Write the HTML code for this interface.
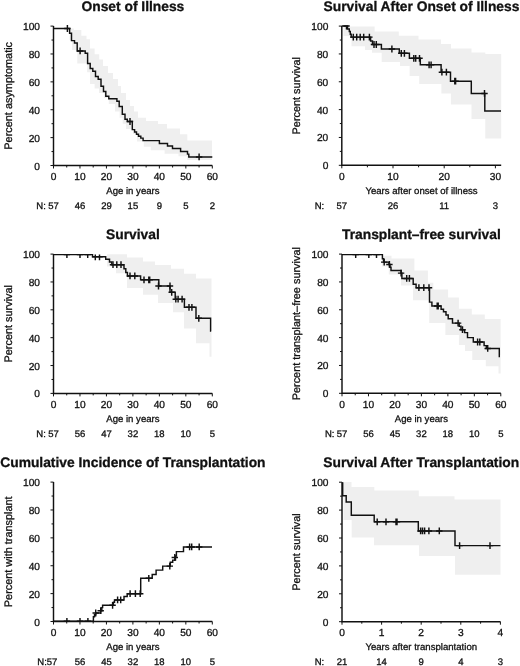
<!DOCTYPE html>
<html><head><meta charset="utf-8"><style>
html,body{margin:0;padding:0;background:#fff;}
svg{display:block;will-change:transform;}
text{text-rendering:geometricPrecision;font-family:"Liberation Sans", sans-serif;fill:#111;stroke:#111;stroke-width:0.3px;}
</style></head><body>
<svg width="520" height="666" viewBox="0 0 520 666">
<path d="M69.6,28.5 L73.8,28.5 L73.8,30 L81.3,30 L81.3,35.8 L86.5,35.8 L86.5,39.3 L90,39.3 L90,48.5 L94.6,48.5 L94.6,54.3 L99.2,54.3 L99.2,59.5 L103,59.5 L103,66 L108,66 L108,73 L113,73 L113,79 L118,79 L118,86 L121,86 L121,93 L126,93 L126,100 L130,100 L130,106 L134,106 L134,111.5 L138,111.5 L138,117.7 L146,117.7 L146,121 L158,121 L158,124 L167,124 L167,128.5 L180,128.5 L180,134.2 L187.3,134.2 L187.3,140.5 L212,140.5 L212,160 L187.3,160 L187.3,156.2 L178.5,156.2 L178.5,153.7 L164.6,153.7 L164.6,150.2 L150.8,150.2 L150.8,146.7 L143.8,146.7 L143.8,141.5 L137,141.5 L137,134 L133,134 L133,129 L126,129 L126,123.8 L122.7,123.8 L122.7,117.7 L119.6,117.7 L119.6,111.5 L115,111.5 L115,104 L108.8,104 L108.8,98 L104,98 L104,93 L99,93 L99,88.5 L94.6,88.5 L94.6,84 L90,84 L90,72.3 L87.1,72.3 L87.1,63.5 L77.3,63.5 L77.3,50 L72,50 L72,40 L69.6,40 Z" fill="#efefef" stroke="none"/>
<path d="M53.5,28.5 L69.6,28.5 L69.6,33.2 L71.5,33.2 L71.5,40.6 L74.5,40.6 L74.5,43 L77.2,43 L77.2,50.9 L85.2,50.9 L85.2,53.2 L87.6,53.2 L87.6,63.5 L90.2,63.5 L90.2,68.5 L92.8,68.5 L92.8,71.2 L95.5,71.2 L95.5,76.5 L98.2,76.5 L98.2,79.2 L101,79.2 L101,86.2 L103.5,86.2 L103.5,91.5 L105.8,91.5 L105.8,96.2 L108.8,96.2 L108.8,98.8 L116.9,98.8 L116.9,101.2 L119.2,101.2 L119.2,106.5 L122.3,106.5 L122.3,114.2 L125,114.2 L125,119.2 L127.3,119.2 L127.3,121.5 L132.3,121.5 L132.3,129.6 L134.6,129.6 L134.6,131.9 L136.5,131.9 L136.5,134.2 L138.5,134.2 L138.5,136.2 L140.8,136.2 L140.8,138.1 L143.1,138.1 L143.1,140.6 L159.4,140.6 L159.4,143.5 L167.5,143.5 L167.5,146 L172.5,146 L172.5,148.5 L180.6,148.5 L180.6,151.5 L187.5,151.5 L187.5,154.1 L188.8,154.1 L188.8,156.9 L212.3,156.9" stroke="#111" stroke-width="1.45" fill="none" stroke-linejoin="miter"/>
<path d="M67.4,25.1 L67.4,31.9 M64.2,28.5 L70.6,28.5 M80.1,47.5 L80.1,54.3 M76.9,50.9 L83.3,50.9 M130,118.1 L130,124.9 M126.8,121.5 L133.2,121.5 M199.1,153.5 L199.1,160.3 M195.9,156.9 L202.3,156.9" stroke="#111" stroke-width="1.45" fill="none"/>
<path d="M53.5,26.1 L53.5,165.5 L212.3,165.5" stroke="#111" stroke-width="1.45" fill="none"/>
<path d="M50.5,165.5 L53.5,165.5 M51.5,151.56 L53.5,151.56 M50.5,137.62 L53.5,137.62 M51.5,123.68 L53.5,123.68 M50.5,109.74 L53.5,109.74 M51.5,95.8 L53.5,95.8 M50.5,81.86 L53.5,81.86 M51.5,67.92 L53.5,67.92 M50.5,53.98 L53.5,53.98 M51.5,40.04 L53.5,40.04 M50.5,26.1 L53.5,26.1 M53.5,165.5 L53.5,168.5 M79.97,165.5 L79.97,168.5 M106.43,165.5 L106.43,168.5 M132.9,165.5 L132.9,168.5 M159.37,165.5 L159.37,168.5 M185.83,165.5 L185.83,168.5 M212.3,165.5 L212.3,168.5 M66.73,165.5 L66.73,167.5 M93.2,165.5 L93.2,167.5 M119.67,165.5 L119.67,167.5 M146.13,165.5 L146.13,167.5 M172.6,165.5 L172.6,167.5 M199.07,165.5 L199.07,167.5" stroke="#111" stroke-width="1" fill="none"/>
<text x="40" y="169.5" text-anchor="end" font-size="10.2">0</text>
<text x="40" y="141.62" text-anchor="end" font-size="10.2">20</text>
<text x="40" y="113.74" text-anchor="end" font-size="10.2">40</text>
<text x="40" y="85.86" text-anchor="end" font-size="10.2">60</text>
<text x="40" y="57.98" text-anchor="end" font-size="10.2">80</text>
<text x="40" y="30.1" text-anchor="end" font-size="10.2">100</text>
<text x="53.5" y="180.1" text-anchor="middle" font-size="10.2">0</text>
<text x="79.97" y="180.1" text-anchor="middle" font-size="10.2">10</text>
<text x="106.43" y="180.1" text-anchor="middle" font-size="10.2">20</text>
<text x="132.9" y="180.1" text-anchor="middle" font-size="10.2">30</text>
<text x="159.37" y="180.1" text-anchor="middle" font-size="10.2">40</text>
<text x="185.83" y="180.1" text-anchor="middle" font-size="10.2">50</text>
<text x="212.3" y="180.1" text-anchor="middle" font-size="10.2">60</text>
<text x="132.9" y="193.7" text-anchor="middle" font-size="9.6">Age in years</text>
<text x="132.9" y="10.9" text-anchor="middle" font-size="13.8" font-weight="bold">Onset of Illness</text>
<text transform="translate(11.8,95.8) rotate(-90)" text-anchor="middle" font-size="10.9">Percent asymptomatic</text>
<text x="36.3" y="208.8" text-anchor="start" font-size="9.5">N:</text>
<text x="53.5" y="208.8" text-anchor="middle" font-size="9.5">57</text>
<text x="79.97" y="208.8" text-anchor="middle" font-size="9.5">46</text>
<text x="106.43" y="208.8" text-anchor="middle" font-size="9.5">29</text>
<text x="132.9" y="208.8" text-anchor="middle" font-size="9.5">15</text>
<text x="159.37" y="208.8" text-anchor="middle" font-size="9.5">9</text>
<text x="185.83" y="208.8" text-anchor="middle" font-size="9.5">5</text>
<text x="212.3" y="208.8" text-anchor="middle" font-size="9.5">2</text>
<path d="M343.5,26.6 L374.6,26.6 L374.6,31.6 L398.8,31.6 L398.8,35.7 L418.5,35.7 L418.5,39.6 L441,39.6 L441,44 L451,44 L451,48.5 L471.5,48.5 L471.5,52.5 L485.3,52.5 L485.3,54 L501.2,54 L501.2,138.5 L485.3,138.5 L485.3,119 L471.5,119 L471.5,104.5 L450.9,104.5 L450.9,93.5 L441.4,93.5 L441.4,84 L419.2,84 L419.2,76 L409.6,76 L409.6,66 L400,66 L400,62 L381.7,62 L381.7,52.7 L372,52.7 L372,50 L365,50 L365,46.2 L351.5,46.2 L351.5,36 L343.5,36 Z" fill="#efefef" stroke="none"/>
<path d="M341.8,26 L347.5,26 L347.5,29 L349.3,29 L349.3,31.5 L350.3,31.5 L350.3,34.3 L351.2,34.3 L351.2,37.1 L370.6,37.1 L370.6,41 L372.5,41 L372.5,44.5 L381.4,44.5 L381.4,49 L399.3,49 L399.3,53.3 L409.4,53.3 L409.4,58.3 L420.3,58.3 L420.3,64.8 L441.1,64.8 L441.1,72.2 L450.5,72.2 L450.5,81.2 L471.3,81.2 L471.3,93.4 L484.8,93.4 L484.8,110.9 L501,110.9" stroke="#111" stroke-width="1.45" fill="none" stroke-linejoin="miter"/>
<path d="M346.5,26.1 L346.5,29.4 M343.3,26 L349.7,26 M353.3,33.7 L353.3,40.5 M350.1,37.1 L356.5,37.1 M356.7,33.7 L356.7,40.5 M353.5,37.1 L359.9,37.1 M360.2,33.7 L360.2,40.5 M357,37.1 L363.4,37.1 M363.7,33.7 L363.7,40.5 M360.5,37.1 L366.9,37.1 M369.4,33.7 L369.4,40.5 M366.2,37.1 L372.6,37.1 M374,41.1 L374,47.9 M370.8,44.5 L377.2,44.5 M376.3,41.1 L376.3,47.9 M373.1,44.5 L379.5,44.5 M391.9,45.6 L391.9,52.4 M388.7,49 L395.1,49 M401.3,49.9 L401.3,56.7 M398.1,53.3 L404.5,53.3 M404.4,49.9 L404.4,56.7 M401.2,53.3 L407.6,53.3 M413.8,54.9 L413.8,61.7 M410.6,58.3 L417,58.3 M415.7,54.9 L415.7,61.7 M412.5,58.3 L418.9,58.3 M419.5,54.9 L419.5,61.7 M416.3,58.3 L422.7,58.3 M429.1,61.4 L429.1,68.2 M425.9,64.8 L432.3,64.8 M431.1,61.4 L431.1,68.2 M427.9,64.8 L434.3,64.8 M441.9,68.8 L441.9,75.6 M438.7,72.2 L445.1,72.2 M446.4,68.8 L446.4,75.6 M443.2,72.2 L449.6,72.2 M454.8,77.8 L454.8,84.6 M451.6,81.2 L458,81.2 M455.6,77.8 L455.6,84.6 M452.4,81.2 L458.8,81.2 M484.5,90 L484.5,96.8 M481.3,93.4 L487.7,93.4" stroke="#111" stroke-width="1.45" fill="none"/>
<path d="M341.8,26.1 L341.8,165.3 L501.2,165.3" stroke="#111" stroke-width="1.45" fill="none"/>
<path d="M338.8,165.3 L341.8,165.3 M339.8,151.38 L341.8,151.38 M338.8,137.46 L341.8,137.46 M339.8,123.54 L341.8,123.54 M338.8,109.62 L341.8,109.62 M339.8,95.7 L341.8,95.7 M338.8,81.78 L341.8,81.78 M339.8,67.86 L341.8,67.86 M338.8,53.94 L341.8,53.94 M339.8,40.02 L341.8,40.02 M338.8,26.1 L341.8,26.1 M341.8,165.3 L341.8,168.3 M393,165.3 L393,168.3 M444.2,165.3 L444.2,168.3 M495.4,165.3 L495.4,168.3 M367.4,165.3 L367.4,167.3 M418.6,165.3 L418.6,167.3 M469.8,165.3 L469.8,167.3" stroke="#111" stroke-width="1" fill="none"/>
<text x="328.3" y="169.3" text-anchor="end" font-size="10.2">0</text>
<text x="328.3" y="141.46" text-anchor="end" font-size="10.2">20</text>
<text x="328.3" y="113.62" text-anchor="end" font-size="10.2">40</text>
<text x="328.3" y="85.78" text-anchor="end" font-size="10.2">60</text>
<text x="328.3" y="57.94" text-anchor="end" font-size="10.2">80</text>
<text x="328.3" y="30.1" text-anchor="end" font-size="10.2">100</text>
<text x="341.8" y="179.9" text-anchor="middle" font-size="10.2">0</text>
<text x="393" y="179.9" text-anchor="middle" font-size="10.2">10</text>
<text x="444.2" y="179.9" text-anchor="middle" font-size="10.2">20</text>
<text x="495.4" y="179.9" text-anchor="middle" font-size="10.2">30</text>
<text x="421.5" y="193.5" text-anchor="middle" font-size="9.6">Years after onset of illness</text>
<text x="421.5" y="10.9" text-anchor="middle" font-size="13.8" font-weight="bold">Survival After Onset of Illness</text>
<text transform="translate(300.3,95.7) rotate(-90)" text-anchor="middle" font-size="10.9">Percent survival</text>
<text x="314.7" y="208.6" text-anchor="start" font-size="9.5">N:</text>
<text x="341.8" y="208.6" text-anchor="middle" font-size="9.5">57</text>
<text x="393" y="208.6" text-anchor="middle" font-size="9.5">26</text>
<text x="444.2" y="208.6" text-anchor="middle" font-size="9.5">11</text>
<text x="495.4" y="208.6" text-anchor="middle" font-size="9.5">3</text>
<path d="M107,254.2 L127,254.2 L127,257.6 L143,257.6 L143,261.5 L155,261.5 L155,265 L171,265 L171,268.8 L184,268.8 L184,273.8 L196,273.8 L196,278.5 L211.5,278.5 L211.5,356.7 L209.5,356.7 L209.5,343.3 L196,343.3 L196,328.5 L184,328.5 L184,312.3 L173,312.3 L173,302.9 L158,302.9 L158,294.8 L143,294.8 L143,288 L127,288 L127,273.3 L116,273.3 L116,266.5 L107,266.5 Z" fill="#efefef" stroke="none"/>
<path d="M53.5,254.6 L92.5,254.6 L92.5,256.8 L105.7,256.8 L105.7,259.2 L109.5,259.2 L109.5,262 L111.8,262 L111.8,264.7 L124,264.7 L124,268.7 L125.8,268.7 L125.8,272.5 L127.4,272.5 L127.4,275.9 L140.6,275.9 L140.6,279.8 L158.8,279.8 L158.8,286 L170,286 L170,292.3 L175.2,292.3 L175.2,299.2 L184.4,299.2 L184.4,307.3 L196,307.3 L196,318.3 L210.6,318.3 L210.6,331 L211.2,331" stroke="#111" stroke-width="1.45" fill="none" stroke-linejoin="miter"/>
<path d="M66.9,254.6 L66.9,258 M63.7,254.6 L70.1,254.6 M80,254.6 L80,258 M76.8,254.6 L83.2,254.6 M87.7,254.6 L87.7,258 M84.5,254.6 L90.9,254.6 M95.3,254.6 L95.3,260.2 M92.1,256.8 L98.5,256.8 M99.5,254.6 L99.5,260.2 M96.3,256.8 L102.7,256.8 M113,261.3 L113,268.1 M109.8,264.7 L116.2,264.7 M116.8,261.3 L116.8,268.1 M113.6,264.7 L120,264.7 M121,261.3 L121,268.1 M117.8,264.7 L124.2,264.7 M130,272.5 L130,279.3 M126.8,275.9 L133.2,275.9 M134.8,272.5 L134.8,279.3 M131.6,275.9 L138,275.9 M144,276.4 L144,283.2 M140.8,279.8 L147.2,279.8 M148.8,276.4 L148.8,283.2 M145.6,279.8 L152,279.8 M149.7,276.4 L149.7,283.2 M146.5,279.8 L152.9,279.8 M158.5,282.6 L158.5,289.4 M155.3,286 L161.7,286 M170,282.6 L170,289.4 M166.8,286 L173.2,286 M171.7,288.9 L171.7,295.7 M168.5,292.3 L174.9,292.3 M175.8,295.8 L175.8,302.6 M172.6,299.2 L179,299.2 M178.1,295.8 L178.1,302.6 M174.9,299.2 L181.3,299.2 M182.1,295.8 L182.1,302.6 M178.9,299.2 L185.3,299.2 M189,303.9 L189,310.7 M185.8,307.3 L192.2,307.3 M191.9,303.9 L191.9,310.7 M188.7,307.3 L195.1,307.3 M198.8,314.9 L198.8,321.7 M195.6,318.3 L202,318.3" stroke="#111" stroke-width="1.45" fill="none"/>
<path d="M53.5,254.1 L53.5,393.4 L212.3,393.4" stroke="#111" stroke-width="1.45" fill="none"/>
<path d="M50.5,393.4 L53.5,393.4 M51.5,379.47 L53.5,379.47 M50.5,365.54 L53.5,365.54 M51.5,351.61 L53.5,351.61 M50.5,337.68 L53.5,337.68 M51.5,323.75 L53.5,323.75 M50.5,309.82 L53.5,309.82 M51.5,295.89 L53.5,295.89 M50.5,281.96 L53.5,281.96 M51.5,268.03 L53.5,268.03 M50.5,254.1 L53.5,254.1 M53.5,393.4 L53.5,396.4 M79.97,393.4 L79.97,396.4 M106.43,393.4 L106.43,396.4 M132.9,393.4 L132.9,396.4 M159.37,393.4 L159.37,396.4 M185.83,393.4 L185.83,396.4 M212.3,393.4 L212.3,396.4 M66.73,393.4 L66.73,395.4 M93.2,393.4 L93.2,395.4 M119.67,393.4 L119.67,395.4 M146.13,393.4 L146.13,395.4 M172.6,393.4 L172.6,395.4 M199.07,393.4 L199.07,395.4" stroke="#111" stroke-width="1" fill="none"/>
<text x="40" y="397.4" text-anchor="end" font-size="10.2">0</text>
<text x="40" y="369.54" text-anchor="end" font-size="10.2">20</text>
<text x="40" y="341.68" text-anchor="end" font-size="10.2">40</text>
<text x="40" y="313.82" text-anchor="end" font-size="10.2">60</text>
<text x="40" y="285.96" text-anchor="end" font-size="10.2">80</text>
<text x="40" y="258.1" text-anchor="end" font-size="10.2">100</text>
<text x="53.5" y="408" text-anchor="middle" font-size="10.2">0</text>
<text x="79.97" y="408" text-anchor="middle" font-size="10.2">10</text>
<text x="106.43" y="408" text-anchor="middle" font-size="10.2">20</text>
<text x="132.9" y="408" text-anchor="middle" font-size="10.2">30</text>
<text x="159.37" y="408" text-anchor="middle" font-size="10.2">40</text>
<text x="185.83" y="408" text-anchor="middle" font-size="10.2">50</text>
<text x="212.3" y="408" text-anchor="middle" font-size="10.2">60</text>
<text x="132.9" y="421.6" text-anchor="middle" font-size="9.6">Age in years</text>
<text x="132.9" y="238.9" text-anchor="middle" font-size="13.8" font-weight="bold">Survival</text>
<text transform="translate(11.8,323.75) rotate(-90)" text-anchor="middle" font-size="10.9">Percent survival</text>
<text x="36.3" y="436.7" text-anchor="start" font-size="9.5">N:</text>
<text x="53.5" y="436.7" text-anchor="middle" font-size="9.5">57</text>
<text x="79.97" y="436.7" text-anchor="middle" font-size="9.5">56</text>
<text x="106.43" y="436.7" text-anchor="middle" font-size="9.5">47</text>
<text x="132.9" y="436.7" text-anchor="middle" font-size="9.5">32</text>
<text x="159.37" y="436.7" text-anchor="middle" font-size="9.5">18</text>
<text x="185.83" y="436.7" text-anchor="middle" font-size="9.5">10</text>
<text x="212.3" y="436.7" text-anchor="middle" font-size="9.5">5</text>
<path d="M382,255.8 L391.5,255.8 L391.5,258.5 L414.4,258.5 L414.4,270.6 L427.9,270.6 L427.9,282.7 L433.3,282.7 L433.3,289.4 L448.1,289.4 L448.1,297.5 L458.9,297.5 L458.9,308.8 L471.8,308.8 L471.8,314.5 L484.8,314.5 L484.8,318.9 L500.6,318.9 L500.6,373.5 L498.5,373.5 L498.5,366.2 L485.8,366.2 L485.8,360 L472.3,360 L472.3,351 L465,351 L465,345 L458.9,345 L458.9,335 L445.4,335 L445.4,323 L429.2,323 L429.2,300.2 L413,300.2 L413,285.4 L401,285.4 L401,274.6 L388.8,274.6 L388.8,266.5 L382,266.5 Z" fill="#efefef" stroke="none"/>
<path d="M342,254.6 L382.4,254.6 L382.4,258.8 L383.6,258.8 L383.6,262.1 L389,262.1 L389,264.4 L390,264.4 L390,267.3 L391,267.3 L391,270.4 L401.1,270.4 L401.1,273.1 L401.9,273.1 L401.9,278.4 L413.2,278.4 L413.2,284.3 L416.1,284.3 L416.1,287.7 L429.5,287.7 L429.5,302.1 L431.9,302.1 L431.9,306 L441.1,306 L441.1,309.3 L443.5,309.3 L443.5,311.8 L446,311.8 L446,315 L448.2,315 L448.2,318.8 L452.5,318.8 L452.5,323.1 L459.2,323.1 L459.2,326.3 L461,326.3 L461,329.7 L464.6,329.7 L464.6,332.6 L467.5,332.6 L467.5,337.6 L473.3,337.6 L473.3,342 L484.1,342 L484.1,345.6 L486.3,345.6 L486.3,348.4 L499.3,348.4 L499.3,356.4 L500,356.4" stroke="#111" stroke-width="1.45" fill="none" stroke-linejoin="miter"/>
<path d="M355.7,254.6 L355.7,258 M352.5,254.6 L358.9,254.6 M368.8,254.6 L368.8,258 M365.6,254.6 L372,254.6 M376.5,254.6 L376.5,258 M373.3,254.6 L379.7,254.6 M384.2,258.7 L384.2,265.5 M381,262.1 L387.4,262.1 M389.4,261 L389.4,267.8 M386.2,264.4 L392.6,264.4 M401.1,269.7 L401.1,276.5 M397.9,273.1 L404.3,273.1 M406.7,275 L406.7,281.8 M403.5,278.4 L409.9,278.4 M409.4,275 L409.4,281.8 M406.2,278.4 L412.6,278.4 M418.9,284.3 L418.9,291.1 M415.7,287.7 L422.1,287.7 M423.8,284.3 L423.8,291.1 M420.6,287.7 L427,287.7 M429,284.3 L429,291.1 M425.8,287.7 L432.2,287.7 M437.2,302.6 L437.2,309.4 M434,306 L440.4,306 M438.2,302.6 L438.2,309.4 M435,306 L441.4,306 M458.1,319.7 L458.1,326.5 M454.9,323.1 L461.3,323.1 M462.5,326.3 L462.5,333.1 M459.3,329.7 L465.7,329.7 M477.6,338.6 L477.6,345.4 M474.4,342 L480.8,342 M479.8,338.6 L479.8,345.4 M476.6,342 L483,342 M487.7,345 L487.7,351.8 M484.5,348.4 L490.9,348.4" stroke="#111" stroke-width="1.45" fill="none"/>
<path d="M342,254.1 L342,393.3 L500.8,393.3" stroke="#111" stroke-width="1.45" fill="none"/>
<path d="M339,393.3 L342,393.3 M340,379.38 L342,379.38 M339,365.46 L342,365.46 M340,351.54 L342,351.54 M339,337.62 L342,337.62 M340,323.7 L342,323.7 M339,309.78 L342,309.78 M340,295.86 L342,295.86 M339,281.94 L342,281.94 M340,268.02 L342,268.02 M339,254.1 L342,254.1 M342,393.3 L342,396.3 M368.47,393.3 L368.47,396.3 M394.93,393.3 L394.93,396.3 M421.4,393.3 L421.4,396.3 M447.87,393.3 L447.87,396.3 M474.33,393.3 L474.33,396.3 M500.8,393.3 L500.8,396.3 M355.23,393.3 L355.23,395.3 M381.7,393.3 L381.7,395.3 M408.17,393.3 L408.17,395.3 M434.63,393.3 L434.63,395.3 M461.1,393.3 L461.1,395.3 M487.57,393.3 L487.57,395.3" stroke="#111" stroke-width="1" fill="none"/>
<text x="328.5" y="397.3" text-anchor="end" font-size="10.2">0</text>
<text x="328.5" y="369.46" text-anchor="end" font-size="10.2">20</text>
<text x="328.5" y="341.62" text-anchor="end" font-size="10.2">40</text>
<text x="328.5" y="313.78" text-anchor="end" font-size="10.2">60</text>
<text x="328.5" y="285.94" text-anchor="end" font-size="10.2">80</text>
<text x="328.5" y="258.1" text-anchor="end" font-size="10.2">100</text>
<text x="342" y="407.9" text-anchor="middle" font-size="10.2">0</text>
<text x="368.47" y="407.9" text-anchor="middle" font-size="10.2">10</text>
<text x="394.93" y="407.9" text-anchor="middle" font-size="10.2">20</text>
<text x="421.4" y="407.9" text-anchor="middle" font-size="10.2">30</text>
<text x="447.87" y="407.9" text-anchor="middle" font-size="10.2">40</text>
<text x="474.33" y="407.9" text-anchor="middle" font-size="10.2">50</text>
<text x="500.8" y="407.9" text-anchor="middle" font-size="10.2">60</text>
<text x="421.4" y="421.5" text-anchor="middle" font-size="9.6">Age in years</text>
<text x="421.4" y="238.9" text-anchor="middle" font-size="13.8" font-weight="bold">Transplant–free survival</text>
<text transform="translate(300.3,323.7) rotate(-90)" text-anchor="middle" font-size="10.9">Percent transplant–free survival</text>
<text x="325" y="436.6" text-anchor="start" font-size="9.5">N:</text>
<text x="342" y="436.6" text-anchor="middle" font-size="9.5">57</text>
<text x="368.47" y="436.6" text-anchor="middle" font-size="9.5">56</text>
<text x="394.93" y="436.6" text-anchor="middle" font-size="9.5">45</text>
<text x="421.4" y="436.6" text-anchor="middle" font-size="9.5">32</text>
<text x="447.87" y="436.6" text-anchor="middle" font-size="9.5">18</text>
<text x="474.33" y="436.6" text-anchor="middle" font-size="9.5">10</text>
<text x="500.8" y="436.6" text-anchor="middle" font-size="9.5">5</text>
<path d="M53.5,621.3 L93.4,621.3 L93.4,616.8 L94.5,616.8 L94.5,614.5 L95.7,614.5 L95.7,613 L100.6,613 L100.6,610.7 L101.8,610.7 L101.8,607.6 L102.6,607.6 L102.6,605.3 L113.4,605.3 L113.4,602.2 L114.5,602.2 L114.5,599.9 L124,599.9 L124,596.5 L127.2,596.5 L127.2,593.7 L140.7,593.7 L140.7,578.3 L152.2,578.3 L152.2,574.4 L156.1,574.4 L156.1,570.1 L162.7,570.1 L162.7,566.1 L170.3,566.1 L170.3,562.2 L172.7,562.2 L172.7,560.1 L175.5,560.1 L175.5,556 L176.4,556 L176.4,551.6 L183.5,551.6 L183.5,546.9 L212,546.9" stroke="#111" stroke-width="1.45" fill="none" stroke-linejoin="miter"/>
<path d="M66.9,617.9 L66.9,621.3 M63.7,621.3 L70.1,621.3 M80,617.9 L80,621.3 M76.8,621.3 L83.2,621.3 M87.9,617.9 L87.9,621.3 M84.7,621.3 L91.1,621.3 M95.7,609.6 L95.7,616.4 M92.5,613 L98.9,613 M100.7,607.3 L100.7,614.1 M97.5,610.7 L103.9,610.7 M112.6,601.9 L112.6,608.7 M109.4,605.3 L115.8,605.3 M117.6,596.5 L117.6,603.3 M114.4,599.9 L120.8,599.9 M120.7,596.5 L120.7,603.3 M117.5,599.9 L123.9,599.9 M130.1,590.3 L130.1,597.1 M126.9,593.7 L133.3,593.7 M135.4,590.3 L135.4,597.1 M132.2,593.7 L138.6,593.7 M140.2,590.3 L140.2,597.1 M137,593.7 L143.4,593.7 M148.8,574.9 L148.8,581.7 M145.6,578.3 L152,578.3 M169.8,562.7 L169.8,569.5 M166.6,566.1 L173,566.1 M174.8,554.1 L174.8,560.9 M171.6,557.5 L178,557.5 M189.6,543.5 L189.6,550.3 M186.4,546.9 L192.8,546.9 M191.7,543.5 L191.7,550.3 M188.5,546.9 L194.9,546.9 M199.2,543.5 L199.2,550.3 M196,546.9 L202.4,546.9" stroke="#111" stroke-width="1.45" fill="none"/>
<path d="M53.5,482.1 L53.5,621.5 L212.3,621.5" stroke="#111" stroke-width="1.45" fill="none"/>
<path d="M50.5,621.5 L53.5,621.5 M51.5,607.56 L53.5,607.56 M50.5,593.62 L53.5,593.62 M51.5,579.68 L53.5,579.68 M50.5,565.74 L53.5,565.74 M51.5,551.8 L53.5,551.8 M50.5,537.86 L53.5,537.86 M51.5,523.92 L53.5,523.92 M50.5,509.98 L53.5,509.98 M51.5,496.04 L53.5,496.04 M50.5,482.1 L53.5,482.1 M53.5,621.5 L53.5,624.5 M79.97,621.5 L79.97,624.5 M106.43,621.5 L106.43,624.5 M132.9,621.5 L132.9,624.5 M159.37,621.5 L159.37,624.5 M185.83,621.5 L185.83,624.5 M212.3,621.5 L212.3,624.5 M66.73,621.5 L66.73,623.5 M93.2,621.5 L93.2,623.5 M119.67,621.5 L119.67,623.5 M146.13,621.5 L146.13,623.5 M172.6,621.5 L172.6,623.5 M199.07,621.5 L199.07,623.5" stroke="#111" stroke-width="1" fill="none"/>
<text x="40" y="625.5" text-anchor="end" font-size="10.2">0</text>
<text x="40" y="597.62" text-anchor="end" font-size="10.2">20</text>
<text x="40" y="569.74" text-anchor="end" font-size="10.2">40</text>
<text x="40" y="541.86" text-anchor="end" font-size="10.2">60</text>
<text x="40" y="513.98" text-anchor="end" font-size="10.2">80</text>
<text x="40" y="486.1" text-anchor="end" font-size="10.2">100</text>
<text x="53.5" y="636.1" text-anchor="middle" font-size="10.2">0</text>
<text x="79.97" y="636.1" text-anchor="middle" font-size="10.2">10</text>
<text x="106.43" y="636.1" text-anchor="middle" font-size="10.2">20</text>
<text x="132.9" y="636.1" text-anchor="middle" font-size="10.2">30</text>
<text x="159.37" y="636.1" text-anchor="middle" font-size="10.2">40</text>
<text x="185.83" y="636.1" text-anchor="middle" font-size="10.2">50</text>
<text x="212.3" y="636.1" text-anchor="middle" font-size="10.2">60</text>
<text x="132.9" y="649.7" text-anchor="middle" font-size="9.6">Age in years</text>
<text x="132.9" y="466.9" text-anchor="middle" font-size="13.8" font-weight="bold">Cumulative Incidence of Transplantation</text>
<text transform="translate(11.8,551.8) rotate(-90)" text-anchor="middle" font-size="10.9">Percent with transplant</text>
<text x="37.3" y="664.8" text-anchor="start" font-size="9.5">N:57</text>
<text x="79.97" y="664.8" text-anchor="middle" font-size="9.5">56</text>
<text x="106.43" y="664.8" text-anchor="middle" font-size="9.5">45</text>
<text x="132.9" y="664.8" text-anchor="middle" font-size="9.5">32</text>
<text x="159.37" y="664.8" text-anchor="middle" font-size="9.5">18</text>
<text x="185.83" y="664.8" text-anchor="middle" font-size="9.5">10</text>
<text x="212.3" y="664.8" text-anchor="middle" font-size="9.5">5</text>
<path d="M343.5,482 L351.5,482 L351.5,487 L374.3,487 L374.3,490.5 L418.8,490.5 L418.8,496.3 L454.5,496.3 L454.5,499.5 L500.5,499.5 L500.5,574.7 L455,574.7 L455,556.1 L419,556.1 L419,545.3 L374,545.3 L374,537.5 L351.7,537.5 L351.7,520.1 L343.5,520.1 Z" fill="#efefef" stroke="none"/>
<path d="M342.7,482.3 L342.7,482.3 L342.7,495.7 L346.2,495.7 L346.2,502 L351.3,502 L351.3,515.3 L374.2,515.3 L374.2,521.8 L418.3,521.8 L418.3,530.9 L455,530.9 L455,545.6 L500.5,545.6" stroke="#111" stroke-width="1.45" fill="none" stroke-linejoin="miter"/>
<path d="M377.2,518.4 L377.2,525.2 M374,521.8 L380.4,521.8 M386,518.4 L386,525.2 M382.8,521.8 L389.2,521.8 M396,518.4 L396,525.2 M392.8,521.8 L399.2,521.8 M397,518.4 L397,525.2 M393.8,521.8 L400.2,521.8 M420.6,527.5 L420.6,534.3 M417.4,530.9 L423.8,530.9 M422.5,527.5 L422.5,534.3 M419.3,530.9 L425.7,530.9 M424.6,527.5 L424.6,534.3 M421.4,530.9 L427.8,530.9 M428.9,527.5 L428.9,534.3 M425.7,530.9 L432.1,530.9 M439.3,527.5 L439.3,534.3 M436.1,530.9 L442.5,530.9 M459.6,542.2 L459.6,549 M456.4,545.6 L462.8,545.6 M490,542.2 L490,549 M486.8,545.6 L493.2,545.6" stroke="#111" stroke-width="1.45" fill="none"/>
<path d="M342,482.2 L342,621.7 L500.5,621.7" stroke="#111" stroke-width="1.45" fill="none"/>
<path d="M339,621.7 L342,621.7 M340,607.75 L342,607.75 M339,593.8 L342,593.8 M340,579.85 L342,579.85 M339,565.9 L342,565.9 M340,551.95 L342,551.95 M339,538 L342,538 M340,524.05 L342,524.05 M339,510.1 L342,510.1 M340,496.15 L342,496.15 M339,482.2 L342,482.2 M342,621.7 L342,624.7 M381.6,621.7 L381.6,624.7 M421.2,621.7 L421.2,624.7 M460.8,621.7 L460.8,624.7 M500.4,621.7 L500.4,624.7 M361.8,621.7 L361.8,623.7 M401.4,621.7 L401.4,623.7 M441,621.7 L441,623.7 M480.6,621.7 L480.6,623.7" stroke="#111" stroke-width="1" fill="none"/>
<text x="328.5" y="625.7" text-anchor="end" font-size="10.2">0</text>
<text x="328.5" y="597.8" text-anchor="end" font-size="10.2">20</text>
<text x="328.5" y="569.9" text-anchor="end" font-size="10.2">40</text>
<text x="328.5" y="542" text-anchor="end" font-size="10.2">60</text>
<text x="328.5" y="514.1" text-anchor="end" font-size="10.2">80</text>
<text x="328.5" y="486.2" text-anchor="end" font-size="10.2">100</text>
<text x="342" y="636.3" text-anchor="middle" font-size="10.2">0</text>
<text x="381.6" y="636.3" text-anchor="middle" font-size="10.2">1</text>
<text x="421.2" y="636.3" text-anchor="middle" font-size="10.2">2</text>
<text x="460.8" y="636.3" text-anchor="middle" font-size="10.2">3</text>
<text x="500.4" y="636.3" text-anchor="middle" font-size="10.2">4</text>
<text x="421.25" y="649.9" text-anchor="middle" font-size="9.6">Years after transplantation</text>
<text x="421.25" y="467" text-anchor="middle" font-size="13.8" font-weight="bold">Survival After Transplantation</text>
<text transform="translate(300.3,551.95) rotate(-90)" text-anchor="middle" font-size="10.9">Percent survival</text>
<text x="314.7" y="665" text-anchor="start" font-size="9.5">N:</text>
<text x="342" y="665" text-anchor="middle" font-size="9.5">21</text>
<text x="381.6" y="665" text-anchor="middle" font-size="9.5">14</text>
<text x="421.2" y="665" text-anchor="middle" font-size="9.5">9</text>
<text x="460.8" y="665" text-anchor="middle" font-size="9.5">4</text>
<text x="500.4" y="665" text-anchor="middle" font-size="9.5">3</text>
</svg>
</body></html>
